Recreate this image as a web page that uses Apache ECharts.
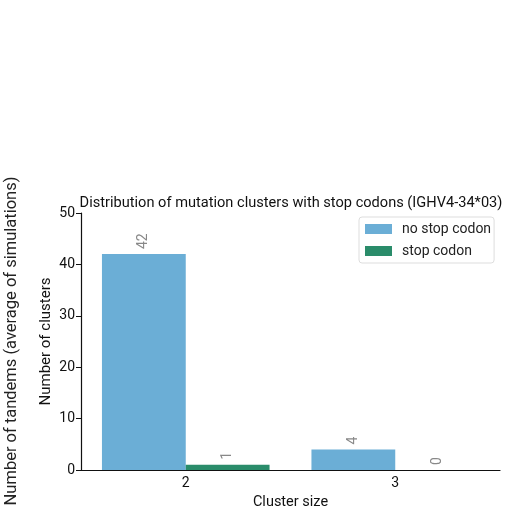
<!DOCTYPE html>
<html><head><meta charset="utf-8">
<script src="https://cdn.jsdelivr.net/npm/echarts@6/dist/echarts.min.js"></script>
<style>html,body{margin:0;padding:0;background:#fff}#c{width:509px;height:515px}</style>
</head><body><div id="c"></div>
<script>
const categories = ['2', '3'];
const noStop = [42, 4];
const stop = [1, 0];
const seriesNames = ['no stop codon', 'stop codon'];
const FONT = 'Roboto';
const chart = echarts.init(document.getElementById('c'));
const lbl = {show: true, position: 'top', rotate: 90, align: 'left', verticalAlign: 'middle', distance: 5, color: '#888', fontFamily: FONT, fontSize: 14};
chart.setOption({
  animation: false,
  textStyle: {fontFamily: FONT},
  title: [
    {text: 'Distribution of mutation clusters with stop codons (IGHV4-34*03)', left: 286, top: 191, textAlign: 'center',
     textStyle: {fontSize: 14.6, fontWeight: 'normal', color: '#111', fontFamily: FONT}},
  ],
  graphic: [{type: 'text', x: 12, y: 341, rotation: Math.PI/2,
    style: {text: 'Number of tandems (average of simulations)', font: '16.5px Roboto', fill: '#222', align: 'center', verticalAlign: 'middle'}}],
  legend: {orient: 'vertical', left: 359, top: 217, itemWidth: 27, itemHeight: 10, itemGap: 8,
    padding: [5, 3, 5, 6], borderColor: '#ddd', borderWidth: 1, borderRadius: 3,
    textStyle: {fontSize: 14, color: '#222', fontFamily: FONT, padding: [0, 0, 0, 5]}, icon: 'rect', data: seriesNames},
  grid: {left: 81, right: 9, top: 213, bottom: 45},
  xAxis: {type: 'category', data: categories, name: 'Cluster size', nameLocation: 'middle', nameGap: 25, nameMoveOverlap: false,
    nameTextStyle: {fontSize: 14.5, color: '#111'},
    axisLine: {lineStyle: {color: '#111', width: 1.2}}, axisTick: {alignWithLabel: true, length: 5, lineStyle: {color: '#111'}},
    axisLabel: {fontSize: 14, color: '#111', margin: 6}},
  yAxis: {type: 'value', min: 0, max: 50, interval: 10, name: 'Number of clusters', nameLocation: 'middle', nameGap: 27, nameMoveOverlap: false,
    nameTextStyle: {fontSize: 15, color: '#111'},
    splitLine: {show: false}, axisLine: {show: true, lineStyle: {color: '#111', width: 1.2}},
    axisTick: {show: true, length: 5, lineStyle: {color: '#111'}}, axisLabel: {fontSize: 14, color: '#111', margin: 6}},
  series: [
    {name: seriesNames[0], type: 'bar', data: noStop, barGap: 0, barCategoryGap: '20%', itemStyle: {color: '#6baed6'}, label: lbl},
    {name: seriesNames[1], type: 'bar', data: stop, itemStyle: {color: '#2a8c6a'}, label: lbl}
  ]
});
</script></body></html>
